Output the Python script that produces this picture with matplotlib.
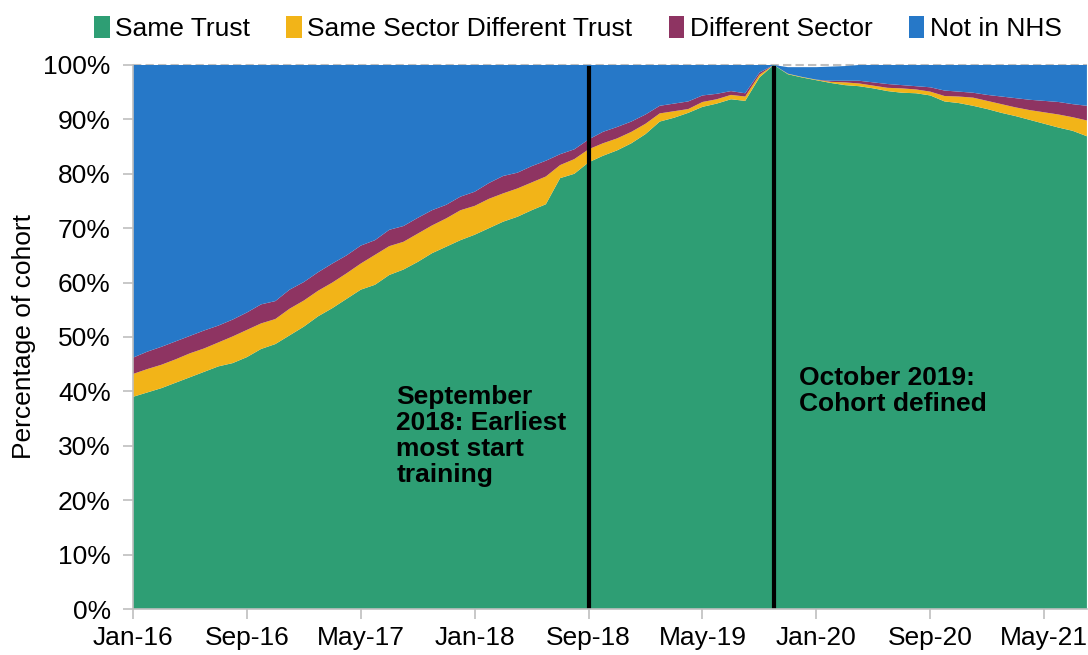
'''
cohort_destination
-----------------------------------------------------------
stacked share of the cohort by where they work, monthly
from Jan-16 to Aug-21.
'''
# load packages -------------------------------------------
import numpy as np
import matplotlib
matplotlib.use('Agg')
import matplotlib.pyplot as plt
from matplotlib.patches import Patch
from matplotlib.ticker import FuncFormatter

plt.rcParams['font.family'] = ['Liberation Sans', 'DejaVu Sans']

# set data ------------------------------------------------
# months since Jan-16 (0 = Jan-16, 67 = Aug-21):
months = np.arange(68)

# share of cohort, percent:
same_trust = [
    39.0, 39.8, 40.6, 41.6, 42.6, 43.6, 44.6, 45.2, 46.3, 47.8,
    48.7, 50.3, 51.9, 53.8, 55.3, 57.0, 58.7, 59.6, 61.4, 62.4,
    63.8, 65.4, 66.6, 67.8, 68.8, 70.0, 71.2, 72.1, 73.3, 74.4,
    79.2, 80.0, 82.1, 83.3, 84.3, 85.6, 87.3, 89.6, 90.3, 91.2,
    92.3, 92.9, 93.7, 93.4, 97.7, 100.0, 98.3, 97.7, 97.2, 96.7,
    96.3, 96.1, 95.7, 95.2, 94.9, 94.8, 94.4, 93.3, 93.0, 92.5,
    91.9, 91.2, 90.6, 89.9, 89.2, 88.5, 87.9, 86.9,
]
same_sector_diff_trust = [
    4.2, 4.3, 4.3, 4.3, 4.4, 4.3, 4.4, 4.9, 5.0, 4.7,
    4.6, 4.9, 4.8, 4.7, 4.7, 4.7, 4.8, 5.5, 5.3, 5.1,
    5.2, 5.1, 5.2, 5.5, 5.3, 5.4, 5.2, 5.2, 5.1, 5.1,
    2.4, 2.7, 2.4, 2.3, 2.2, 2.1, 1.9, 1.5, 1.2, 0.7,
    0.9, 0.8, 0.8, 0.8, 0.5, 0.0, 0.1, 0.1, 0.1, 0.2,
    0.5, 0.5, 0.5, 0.6, 0.8, 0.7, 0.7, 1.0, 1.2, 1.5,
    1.5, 1.6, 1.6, 1.8, 2.1, 2.4, 2.5, 2.9,
]
different_sector = [
    3.0, 3.2, 3.3, 3.3, 3.2, 3.3, 3.1, 3.1, 3.2, 3.5,
    3.3, 3.5, 3.4, 3.4, 3.5, 3.3, 3.3, 2.7, 3.0, 2.9,
    2.9, 2.8, 2.5, 2.5, 2.6, 2.9, 3.2, 2.9, 3.0, 2.9,
    2.0, 1.8, 1.8, 2.1, 2.1, 1.9, 1.7, 1.4, 1.4, 1.4,
    1.2, 1.0, 0.7, 0.6, 0.4, 0.0, 0.0, 0.0, 0.0, 0.2,
    0.3, 0.5, 0.6, 0.7, 0.6, 0.6, 0.8, 1.0, 0.9, 0.9,
    1.1, 1.4, 1.7, 1.9, 2.1, 2.3, 2.4, 2.7,
]
not_in_nhs = [
    53.8, 52.7, 51.8, 50.8, 49.8, 48.8, 47.9, 46.8, 45.5, 44.0,
    43.4, 41.3, 39.9, 38.1, 36.5, 35.0, 33.2, 32.2, 30.3, 29.6,
    28.1, 26.7, 25.7, 24.2, 23.3, 21.7, 20.4, 19.8, 18.6, 17.6,
    16.4, 15.5, 13.7, 12.3, 11.4, 10.4, 9.1, 7.5, 7.1, 6.7,
    5.6, 5.3, 4.8, 5.2, 1.4, 0.0, 1.2, 1.8, 2.3, 2.6,
    2.7, 2.9, 3.2, 3.5, 3.7, 3.9, 4.1, 4.7, 4.9, 5.1,
    5.5, 5.8, 6.1, 6.4, 6.6, 6.8, 7.2, 7.5,
]

series_names = ['Same Trust', 'Same Sector Different Trust',
                'Different Sector', 'Not in NHS']
colors = ['#2e9e74', '#f2b418', '#8e3462', '#2678c8']

# tick labels every 8 months:
tick_months = [0, 8, 16, 24, 32, 40, 48, 56, 64]
tick_labels = ['Jan-16', 'Sep-16', 'May-17', 'Jan-18', 'Sep-18',
               'May-19', 'Jan-20', 'Sep-20', 'May-21']

# event markers:
event_months = [32, 45]
event_texts = ['September\n2018: Earliest\nmost start\ntraining',
               'October 2019:\nCohort defined']
text_pos = [(18.5, 41.2), (46.8, 44.6)]

# plot data -----------------------------------------------
fig = plt.figure(figsize=(10.88, 6.55), dpi=100)
ax = fig.add_axes([0.1222, 0.0702, 0.8768, 0.8306])

grey = '#bfbfbf'
fs = 19
ax.axhline(100, color=grey, lw=1.5, ls=(0, (4, 2)), zorder=0,
           clip_on=False)

ax.stackplot(months, same_trust, same_sector_diff_trust,
             different_sector, not_in_nhs, colors=colors,
             linewidth=0, zorder=1)

for m in event_months:
    ax.axvline(m, ymin=0, ymax=0.994, color='black', lw=3, zorder=3)

for (tx, ty), txt in zip(text_pos, event_texts):
    ax.text(tx, ty, txt, fontsize=fs, fontweight='bold', va='top',
            ha='left', linespacing=1.1, zorder=4)

# axes styling:
ax.set_xlim(0, 67)
ax.set_ylim(0, 100)
ax.set_xticks(tick_months)
ax.set_xticklabels(tick_labels)
ax.set_yticks(np.arange(0, 101, 10))
ax.yaxis.set_major_formatter(FuncFormatter(lambda v, p: f'{v:.0f}%'))
ax.tick_params(axis='both', colors=grey, labelcolor='black',
               labelsize=fs, length=7, width=1.2)
ax.tick_params(axis='x', pad=5)
ax.tick_params(axis='y', pad=9)
for side in ['top', 'right']:
    ax.spines[side].set_visible(False)
for side in ['left', 'bottom']:
    ax.spines[side].set_color(grey)
    ax.spines[side].set_linewidth(1.2)
    ax.spines[side].set_zorder(5)

ax.set_ylabel('Percentage of cohort', fontsize=fs, labelpad=5)

# legend:
handles = [Patch(facecolor=c, edgecolor='none') for c in colors]
fig.legend(handles, series_names, loc='center', ncol=4,
           bbox_to_anchor=(0.531, 0.957), frameon=False, fontsize=fs,
           handlelength=0.6, handleheight=0.9, handletextpad=0.2,
           columnspacing=1.37)

fig.savefig('out.png', dpi=100)

# finish routine ------------------------------------------
